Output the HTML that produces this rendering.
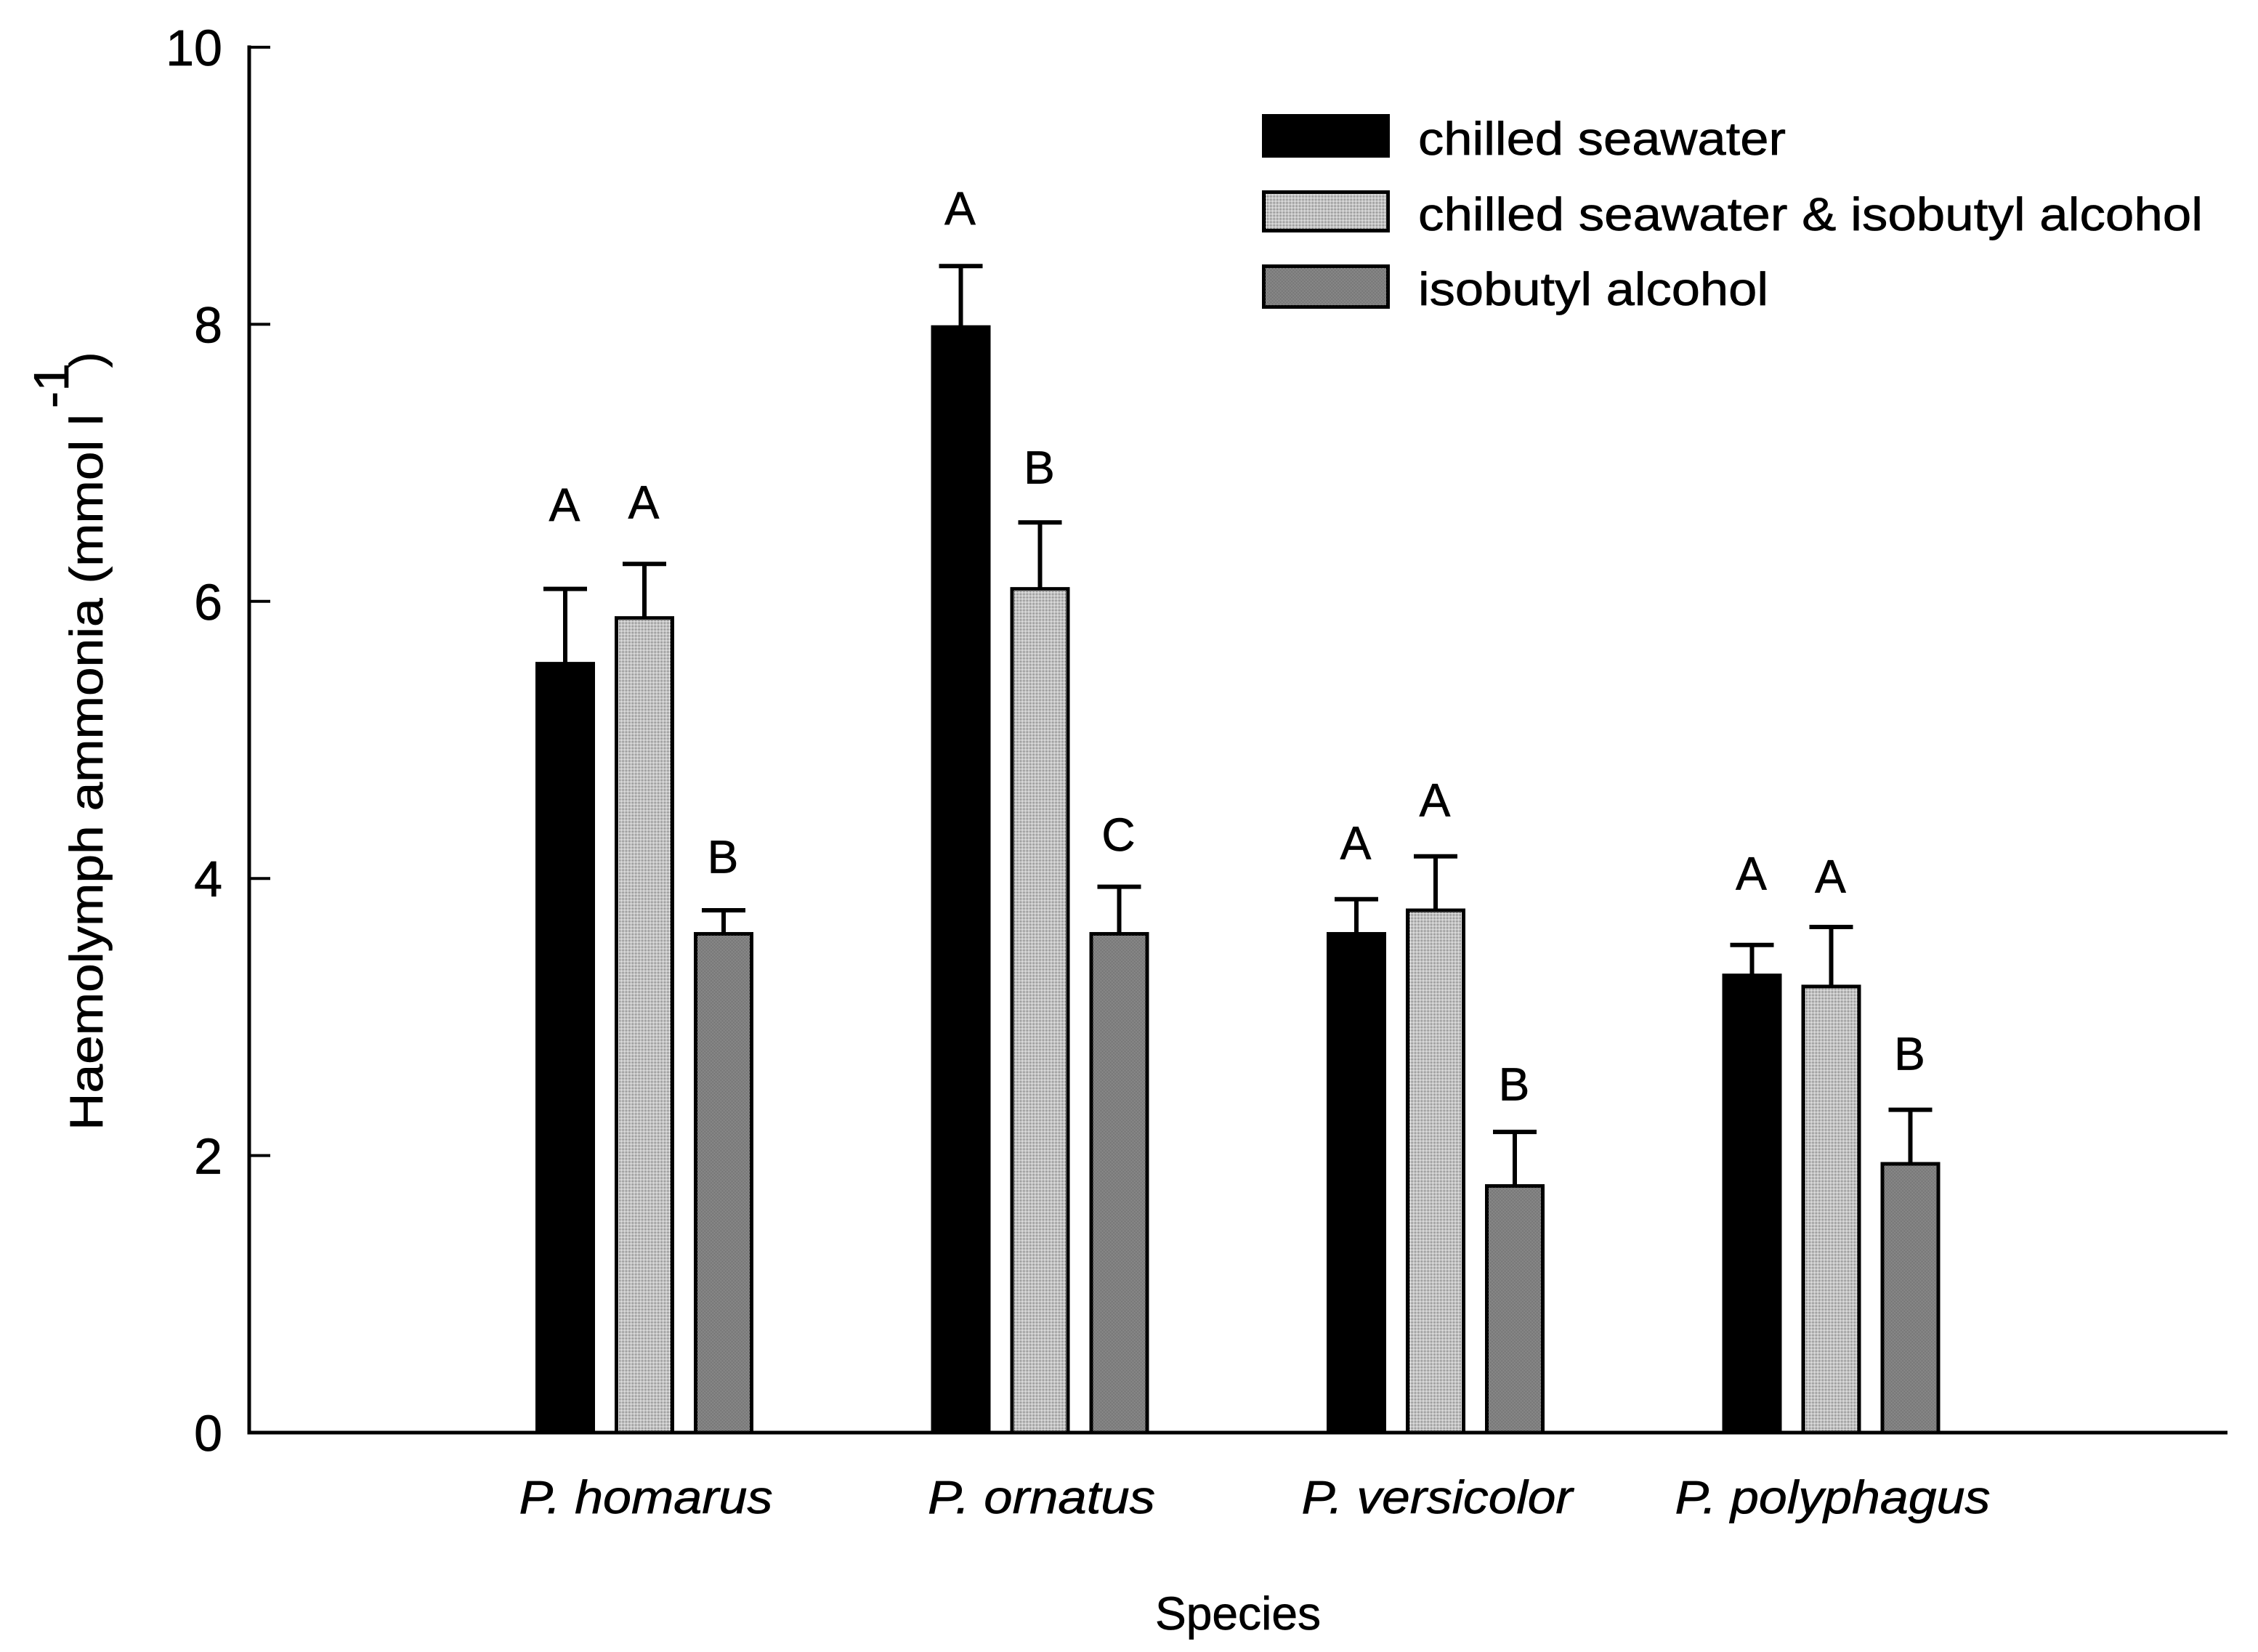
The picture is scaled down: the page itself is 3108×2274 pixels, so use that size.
<!DOCTYPE html>
<html lang="en">
<head>
<meta charset="utf-8">
<title>Haemolymph ammonia by species</title>
<style>
html,body{margin:0;padding:0;background:#fff;}
svg{display:block;}
text{font-family:"Liberation Sans",sans-serif;fill:#000;stroke:#000;stroke-width:0.7px;}
</style>
</head>
<body>
<svg id="chart" xmlns="http://www.w3.org/2000/svg" width="3108" height="2274" viewBox="0 0 3108 2274">
  <defs>
    <pattern id="light-fill" width="2" height="2" patternUnits="userSpaceOnUse">
      <rect width="2" height="2" fill="#fff"/>
      <rect width="1" height="1" fill="#000"/>
    </pattern>
    <pattern id="dark-fill" width="2" height="2" patternUnits="userSpaceOnUse">
      <rect width="2" height="2" fill="#fff"/>
      <rect width="1" height="1" fill="#000"/>
      <rect x="1" y="1" width="1" height="1" fill="#000"/>
    </pattern>
  </defs>
  <rect width="3108" height="2274" fill="#fff"/>
  <g id="bars"></g>
  <g id="axes"></g>

  <g transform="translate(141,1556) rotate(-90)">
    <text x="0" y="0" font-size="64" textLength="986" lengthAdjust="spacingAndGlyphs">Haemolymph ammonia (mmol l</text>
    <text x="994" y="-47" font-size="68" textLength="62" lengthAdjust="spacingAndGlyphs">-1</text>
    <text x="1050" y="0" font-size="64">)</text>
  </g>
  <text x="1590" y="2243" font-size="64" textLength="228" lengthAdjust="spacingAndGlyphs">Species</text>

  <g>
    <g>
      <rect x="1739.5" y="159.5" width="171" height="55" fill="#000" stroke="#000" stroke-width="5"/>
      <text x="1952" y="213" font-size="64" textLength="506" lengthAdjust="spacingAndGlyphs">chilled seawater</text>
    </g>
    <g>
      <rect x="1739.5" y="264.5" width="171" height="53" fill="url(#light-fill)" stroke="#000" stroke-width="5"/>
      <text x="1952" y="317" font-size="64" textLength="1080" lengthAdjust="spacingAndGlyphs">chilled seawater &amp; isobutyl alcohol</text>
    </g>
    <g>
      <rect x="1739.5" y="366.5" width="171" height="56" fill="url(#dark-fill)" stroke="#000" stroke-width="5"/>
      <text x="1952" y="420" font-size="64" textLength="482" lengthAdjust="spacingAndGlyphs">isobutyl alcohol</text>
    </g>
  </g>
</svg>

<script>
const categories = ["P. homarus", "P. ornatus", "P. versicolor", "P. polyphagus"];
const yTickLabels = ["0", "2", "4", "6", "8", "10"];

const chilledValues = [5.55, 7.98, 3.6, 3.3];
const mixedValues = [5.88, 6.09, 3.77, 3.22];
const isobutylValues = [3.6, 3.6, 1.78, 1.94];

const chilledErrors = [0.54, 0.44, 0.25, 0.22];
const mixedErrors = [0.39, 0.48, 0.39, 0.43];
const isobutylErrors = [0.17, 0.34, 0.39, 0.39];

const chilledLetters = ["A", "A", "A", "A"];
const mixedLetters = ["A", "B", "A", "A"];
const isobutylLetters = ["B", "C", "B", "B"];

const svgNS = "http://www.w3.org/2000/svg";
const barsLayer = document.getElementById("bars");
const axesLayer = document.getElementById("axes");

function yScale(v) { return 1972 - 190.7 * v; }
function xCategory(i) { return 887 + 544.5 * i; }
function xBar(i, s) { return xCategory(i) + (s - 1) * 109; }

function shape(parent, tag, attrs) {
  const el = document.createElementNS(svgNS, tag);
  for (const k in attrs) el.setAttribute(k, attrs[k]);
  parent.appendChild(el);
  return el;
}

// axes
const yAxisLine = shape(axesLayer, "line", {x1: 343, x2: 343, y1: yScale(10) - 2.5, y2: yScale(0) + 2.5, stroke: "#000", "stroke-width": 5});


const xAxisLine = shape(axesLayer, "line", {x1: 341, x2: 3066, y1: yScale(0), y2: yScale(0), stroke: "#000", "stroke-width": 5});



yTickLabels.forEach(function (label) {
  const v = Number(label);
  const tick = shape(axesLayer, "line", {x1: 343, x2: 372, y1: yScale(v), y2: yScale(v), stroke: "#000", "stroke-width": 4});
  
  
  const txt = shape(axesLayer, "text", {x: 306, y: yScale(v) + 25, "font-size": 70, "text-anchor": "end"});
  txt.textContent = label;
  
  
});

const categoryWidths = [349, 313, 373, 434];
categories.forEach(function (name, i) {
  const txt = shape(axesLayer, "text", {x: xCategory(i) + 2, y: 2083, "font-size": 64, "font-style": "italic", "text-anchor": "middle", textLength: categoryWidths[i], lengthAdjust: "spacingAndGlyphs"});
  txt.textContent = name;
  
  
});

// bars, error bars, significance letters
const seriesNames = ["chilled-seawater", "chilled-seawater-isobutyl", "isobutyl-alcohol"];
const seriesValues = [chilledValues, mixedValues, isobutylValues];
const seriesErrors = [chilledErrors, mixedErrors, isobutylErrors];
const seriesLetters = [chilledLetters, mixedLetters, isobutylLetters];
const seriesFills = ["#000", "url(#light-fill)", "url(#dark-fill)"];
const letterGaps = [[0.49, 0.3, 0.29, 0.4], [0.33, 0.28, 0.29, 0.25], [0.27, 0.26, 0.23, 0.29]];

seriesValues.forEach(function (values, s) {
  values.forEach(function (value, i) {
    const cx = xBar(i, s);
    const errTop = value + seriesErrors[s][i];

    const stem = shape(barsLayer, "line", {x1: cx, x2: cx, y1: yScale(value), y2: yScale(errTop), stroke: "#000", "stroke-width": 6});
    
    
    const cap = shape(barsLayer, "line", {x1: cx - 30, x2: cx + 30, y1: yScale(errTop), y2: yScale(errTop), stroke: "#000", "stroke-width": 6});
    
    

    const bar = shape(barsLayer, "rect", {x: cx - 38.5, y: yScale(value), width: 77, height: yScale(0) - yScale(value), fill: seriesFills[s], stroke: "#000", "stroke-width": 5});
    
    

    const letter = shape(barsLayer, "text", {x: cx - 1, y: yScale(errTop + letterGaps[s][i]), "font-size": 64, "text-anchor": "middle"});
    letter.textContent = seriesLetters[s][i];
    
    
  });
});
</script>
</body>
</html>
